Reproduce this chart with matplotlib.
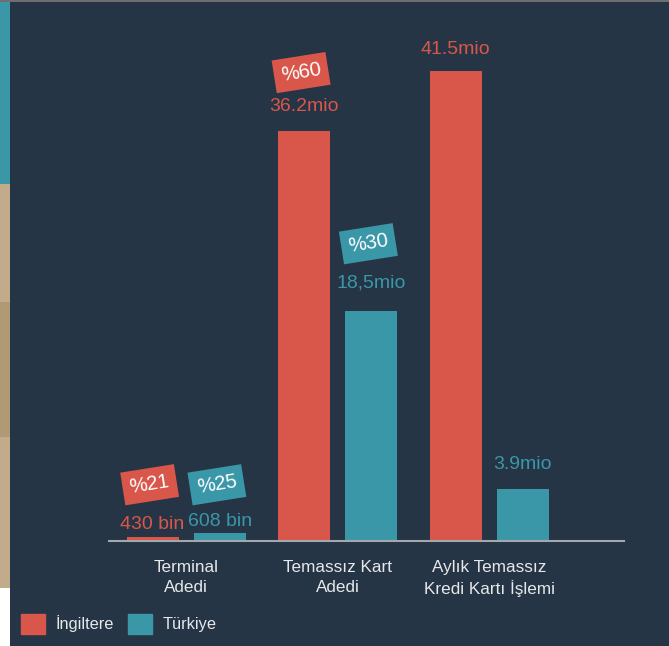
import matplotlib
matplotlib.use("Agg")
import matplotlib.pyplot as plt
from matplotlib.patches import Rectangle, Patch
import numpy as np

plt.rcParams['font.family'] = ['Liberation Sans', 'DejaVu Sans']

# ---------------- data ----------------
categories = ["Terminal\nAdedi", "Temassız Kart\nAdedi", "Aylık Temassız\nKredi Kartı İşlemi"]
series_names = ["İngiltere", "Türkiye"]
uk_values = [0.35, 36.2, 41.5]        # bar heights (mio)
tr_values = [0.7, 20.3, 4.55]
uk_labels = ["430 bin", "36.2mio", "41.5mio"]
tr_labels = ["608 bin", "18,5mio", "3.9mio"]
uk_pct = ["%21", "%60", None]
tr_pct = ["%25", "%30", None]

# ---------------- style ----------------
W, H = 669, 646
NAVY = "#253545"
RED = "#d9574a"
TEAL = "#3a97a8"
TXT = "#e6e8ea"

fig = plt.figure(figsize=(W / 100, H / 100), dpi=100, facecolor=NAVY)

def fx(px):
    return px / W

def fy(py):
    return 1 - py / H

# left page strip (background decoration)
strip = [(0, 184, TEAL), (184, 302, "#c2ab8a"), (302, 437, "#b09a75"),
         (437, 588, "#c2ab8a"), (588, 646, "#ffffff")]
for y0, y1, c in strip:
    fig.add_artist(Rectangle((0, fy(y1)), fx(9.5), (y1 - y0) / H,
                             transform=fig.transFigure, color=c, lw=0, zorder=0))
fig.add_artist(Rectangle((0, fy(1.5)), 1, 1.5 / H, transform=fig.transFigure,
                         color="#6e6e6e", lw=0, zorder=0))

ax = fig.add_axes([fx(109), fy(540.7), fx(624) - fx(109), fy(30.9) - fy(540.7)])
ax.set_facecolor("none")
ax.set_xlim(-0.51, 2.89)
ax.set_ylim(0, 45)

x = np.arange(len(categories))
off = 0.222
bw = 0.343
ax.bar(x - off, uk_values, bw, color=RED, zorder=2)
ax.bar(x + off, tr_values, bw, color=TEAL, zorder=2)

# label offsets (pixels above bar top)
uk_lab_off = [12, 24, 21]
tr_lab_off = [11, 28, 25]
uk_pct_gap = [40, 34, 0]
tr_pct_gap = [37, 39, 0]

for xs, vals, labs, pcts, offs, gaps, col in [
        (x - off, uk_values, uk_labels, uk_pct, uk_lab_off, uk_pct_gap, RED),
        (x + off, tr_values, tr_labels, tr_pct, tr_lab_off, tr_pct_gap, TEAL)]:
    for xi, v, lab, p, o, g in zip(xs, vals, labs, pcts, offs, gaps):
        ax.annotate(lab, (xi, v), xytext=(0, o), textcoords="offset pixels",
                    ha="center", va="center", color=col, fontsize=14, zorder=3)
        if p:
            ax.annotate(p, (xi, v), xytext=(-3, o + g), textcoords="offset pixels",
                        ha="center", va="center", color="white", fontsize=14.5,
                        rotation=9, rotation_mode="anchor", zorder=4,
                        bbox=dict(boxstyle="square,pad=0.35", fc=col, ec="none"))

for s in ["top", "right", "left"]:
    ax.spines[s].set_visible(False)
ax.spines["bottom"].set_color("#a3a8ad")
ax.spines["bottom"].set_linewidth(1.5)
ax.set_yticks([])
ax.set_xticks(x)
ax.set_xticklabels(categories, color=TXT, fontsize=12.3, linespacing=1.38)
ax.tick_params(axis="x", length=0, pad=14)

handles = [Patch(color=RED), Patch(color=TEAL)]
fig.legend(handles, series_names, loc="center left",
           bbox_to_anchor=(fx(21), fy(624)), frameon=False, fontsize=11.8,
           labelcolor=TXT, ncol=2, handlelength=1.48, handleheight=1.48,
           handletextpad=0.6, columnspacing=0.9, borderpad=0, borderaxespad=0)

fig.savefig("out.png", dpi=100, facecolor=NAVY)
